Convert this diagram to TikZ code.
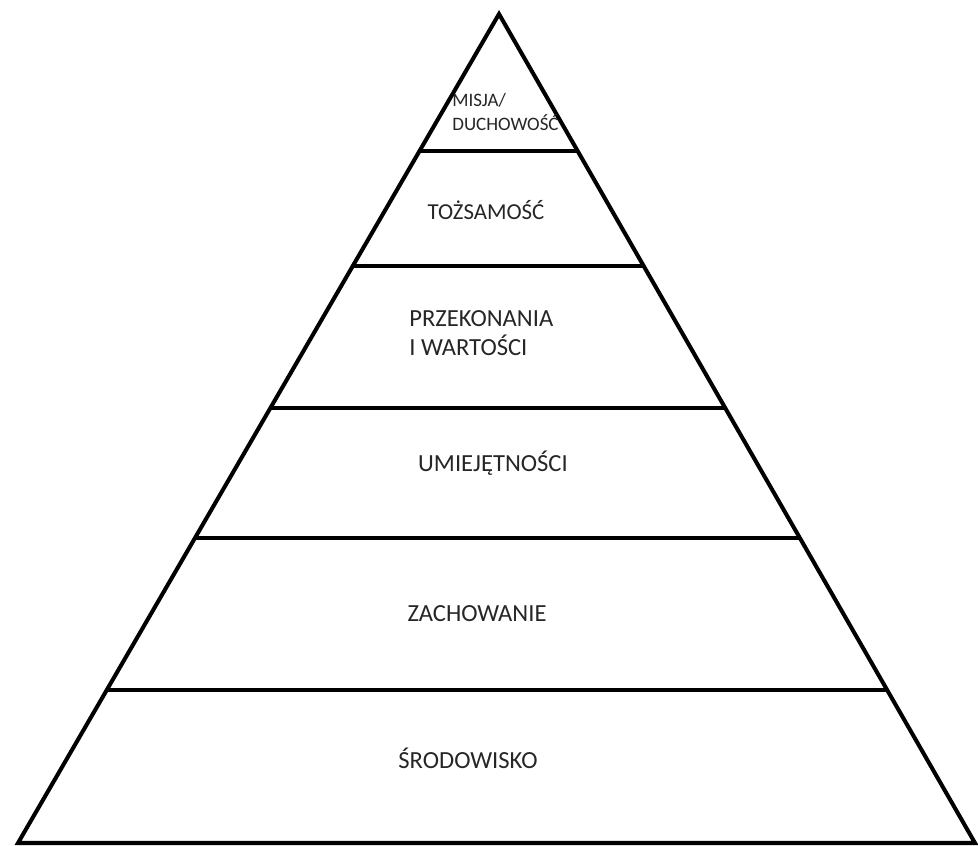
\documentclass[tikz,border=0pt]{standalone}
\usepackage{fontspec}
\setmainfont{Carlito}
\usetikzlibrary{calc,positioning}

\begin{document}
\begin{tikzpicture}[
        x=0.02cm, y=-0.02cm,
        edge/.style={line width=2.3pt, line join=miter, line cap=round},
        level/.style={line width=2.3pt},
        tag/.style={inner sep=0pt, align=left, text=black!85, font=\fontsize{14}{16.5}\selectfont}
        ]
        \useasboundingbox (0,0) rectangle (978,846);

        % corners of the pyramid
        \coordinate (top) at (499,14);
        \coordinate (bl) at (18,843);
        \coordinate (br) at (975,843);

        \draw[edge] (bl) -- (top) -- (br) -- cycle;

        % level lines
        \foreach \t in {0.1653,0.304,0.4753,0.6321,0.8154}
            \draw[level] ($(top)!\t!(bl)$) -- ($(top)!\t!(br)$);

        \node[tag, font=\fontsize{10.8}{13.5}\selectfont, anchor=west] (misja) at (452,112) {MISJA/\\DUCHOWOŚĆ};
        \node[tag, font=\fontsize{13}{15}\selectfont] (tozsamosc) at (486,210) {TOŻSAMOŚĆ};
        \node[tag, anchor=west] (przekonania) at (409,333) {PRZEKONANIA\\I WARTOŚCI};
        \node[tag] (umiejetnosci) at (493,463) {UMIEJĘTNOŚCI};
        \node[tag] (zachowanie) at (477,614) {ZACHOWANIE};
        \node[tag] (srodowisko) at (468,758) {ŚRODOWISKO};
\end{tikzpicture}
\end{document}
